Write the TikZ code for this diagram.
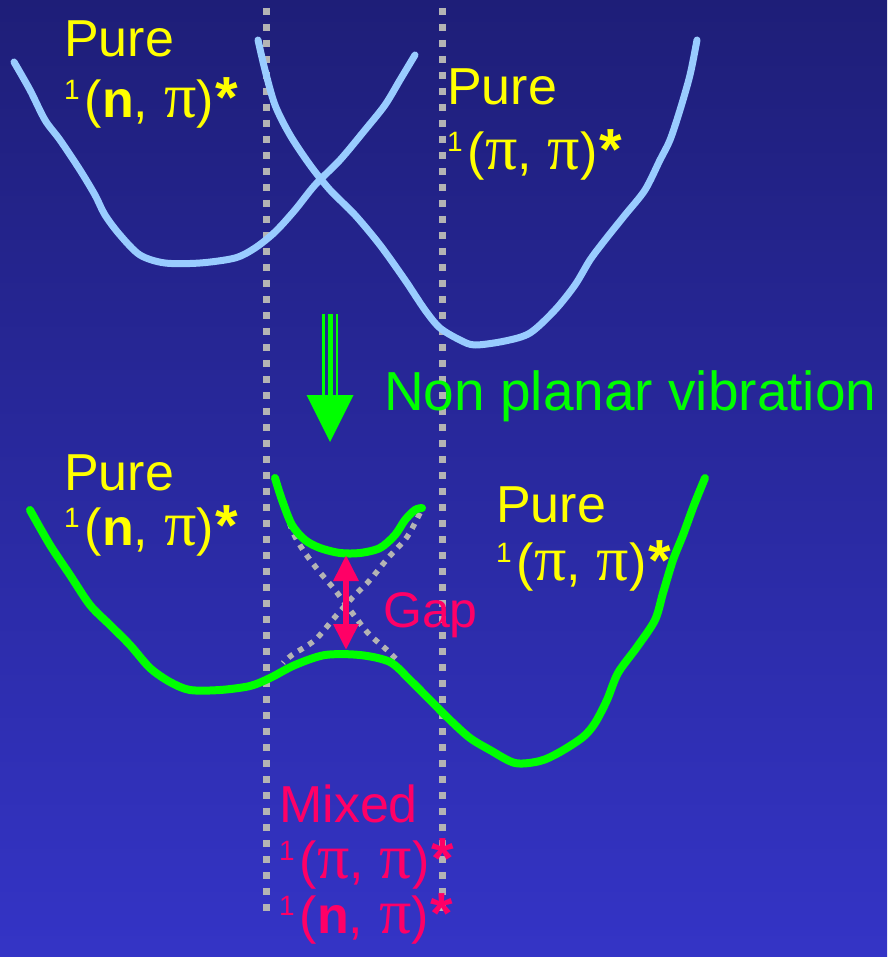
\documentclass[tikz,border=0pt]{standalone}
\usepackage{fontspec}
\setmainfont{Liberation Sans}
\newfontfamily\pifont{Liberation Serif}
\usetikzlibrary{arrows.meta,positioning,calc}
\definecolor{bgtop}{HTML}{1E1E78}
\definecolor{bgbot}{HTML}{3434C6}
\definecolor{pureyel}{HTML}{FFFF00}
\definecolor{vibgreen}{HTML}{00FF00}
\definecolor{mixpink}{HTML}{FF0066}
\definecolor{diablue}{HTML}{99CCFF}
\definecolor{guidegray}{HTML}{B4B4B4}
\newcommand{\pisym}{{\pifont\fontsize{64}{60}\selectfont π}}
\newcommand{\supone}{\raisebox{18pt}{\fontsize{28}{28}\selectfont 1}\hspace{5pt}}
\newcommand{\bign}{\textbf{n}}
\newcommand{\pisep}{,\hspace{16pt}}
\newcommand{\bigast}{\hspace{2pt}{\fontsize{58}{60}\selectfont\bfseries *}}

\begin{document}
\begin{tikzpicture}[x=1pt, y=-1pt,
    lbl/.style={anchor=base west, inner sep=0pt, font=\fontsize{52}{60}\selectfont},
    guide/.style={draw=guidegray, line width=7pt, dash pattern=on 7pt off 9pt},
    diab/.style={draw=guidegray, line width=5.5pt, dash pattern=on 5.5pt off 6.5pt},
    pes/.style={line width=7pt, line cap=round, line join=round}]

% background
\path[top color=bgtop, bottom color=bgbot] (0,0) rectangle (887,957);

% guide lines
\coordinate (gla) at (266,8);   \coordinate (glb) at (266,915);
\coordinate (gra) at (442,8);   \coordinate (grb) at (442,915);
\draw[guide] (gla) -- (glb);
\draw[guide] (gra) -- (grb);

% upper panel: pure states
\draw[pes, diablue] plot[smooth] coordinates {(14,62) (30,90) (45,120) (60,140) (80,170)
  (95,195) (105,215) (120,235) (140,255) (165,263) (200,263) (235,258) (255,248)
  (275,232) (295,210) (315,185) (340,160) (365,130) (385,105) (400,80) (415,55)};
\draw[pes, diablue] plot[smooth] coordinates {(258,40) (265,70) (275,105) (290,135)
  (310,165) (330,190) (355,215) (380,245) (405,280) (425,310) (440,328) (460,340)
  (475,345) (505,341) (530,333) (555,310) (575,285) (590,260) (605,240) (625,215)
  (645,190) (660,160) (670,140) (680,110) (690,75) (697,40)};

\node[lbl, text=pureyel] (pnA) at (64,57) {Pure};
\node[lbl, text=pureyel] (pnB) at (64,118) {\supone(\bign\pisep\pisym)\bigast};
\node[lbl, text=pureyel] (ppA) at (447,105) {Pure};
\node[lbl, text=pureyel] (ppB) at (447,170) {\supone(\pisym\pisep\pisym)\bigast};

% vibration arrow
\coordinate (vibtop) at (330,314);
\coordinate (vibbase) at (330,395);
\coordinate (vibtip) at (330,442);
\draw[vibgreen, line width=3pt] ([xshift=-6.5pt]vibtop) -- ([xshift=-6.5pt]vibbase);
\draw[vibgreen, line width=5pt] ([xshift=0.5pt]vibtop) -- ([xshift=0.5pt]vibbase);
\draw[vibgreen, line width=2.5pt] ([xshift=7pt]vibtop) -- ([xshift=7pt]vibbase);
\fill[vibgreen] ([xshift=-23.5pt]vibbase) -- ([xshift=23.5pt]vibbase) -- (vibtip) -- cycle;
\node[lbl, text=vibgreen, font=\fontsize{55}{60}\selectfont] (vib) at (384,410) {Non planar vibration};

% lower panel: mixed states
\draw[diab] plot[smooth] coordinates {(283,500) (292,530) (303,550) (318,570)
  (335,590) (350,610) (368,633) (387,650) (397,660)};
\draw[diab] plot[smooth] coordinates {(420,513) (407,537) (388,558) (370,580)
  (353,597) (335,617) (315,640) (292,655) (283,663)};

\draw[pes, vibgreen, line width=8pt] plot[smooth] coordinates {(275,478) (282,500)
  (292,525) (305,540) (320,548) (340,553) (360,553) (380,548) (395,535) (405,520)
  (415,510) (422,508)};
\draw[pes, vibgreen, line width=8pt] plot[smooth] coordinates {(30,510) (50,545)
  (70,575) (90,605) (110,625) (130,645) (150,668) (170,682) (190,690) (220,690)
  (250,686) (270,678) (295,665) (325,655) (360,655) (390,662) (410,680) (430,700)
  (450,720) (470,738) (490,750) (515,763) (540,761) (560,752) (583,737) (595,723)
  (607,700) (618,673) (637,647) (655,620) (663,593) (673,560) (683,535) (694,505)
  (705,478)};

\coordinate (gaptop) at (346,555);
\coordinate (gapbot) at (346,650);
\draw[mixpink, line width=6pt,
      {Triangle[width=24pt,length=26pt]}-{Triangle[width=24pt,length=26pt]}]
  (gaptop) -- (gapbot);
\node[lbl, text=mixpink, font=\fontsize{50}{60}\selectfont] (gap) at (383,627) {Gap};

\node[lbl, text=pureyel] (lnA) at (64,490) {Pure};
\node[lbl, text=pureyel] (lnB) at (64,545) {\supone(\bign\pisep\pisym)\bigast};
\node[lbl, text=pureyel] (lpA) at (496,522) {Pure};
\node[lbl, text=pureyel] (lpB) at (496,580) {\supone(\pisym\pisep\pisym)\bigast};

\node[lbl, text=mixpink] (mxA) at (279,822) {Mixed};
\node[lbl, text=mixpink] (mxB) at (279,878) {\supone(\pisym\pisep\pisym)\bigast};
\node[lbl, text=mixpink] (mxC) at (279,933) {\supone(\bign\pisep\pisym)\bigast};
\end{tikzpicture}
\end{document}
